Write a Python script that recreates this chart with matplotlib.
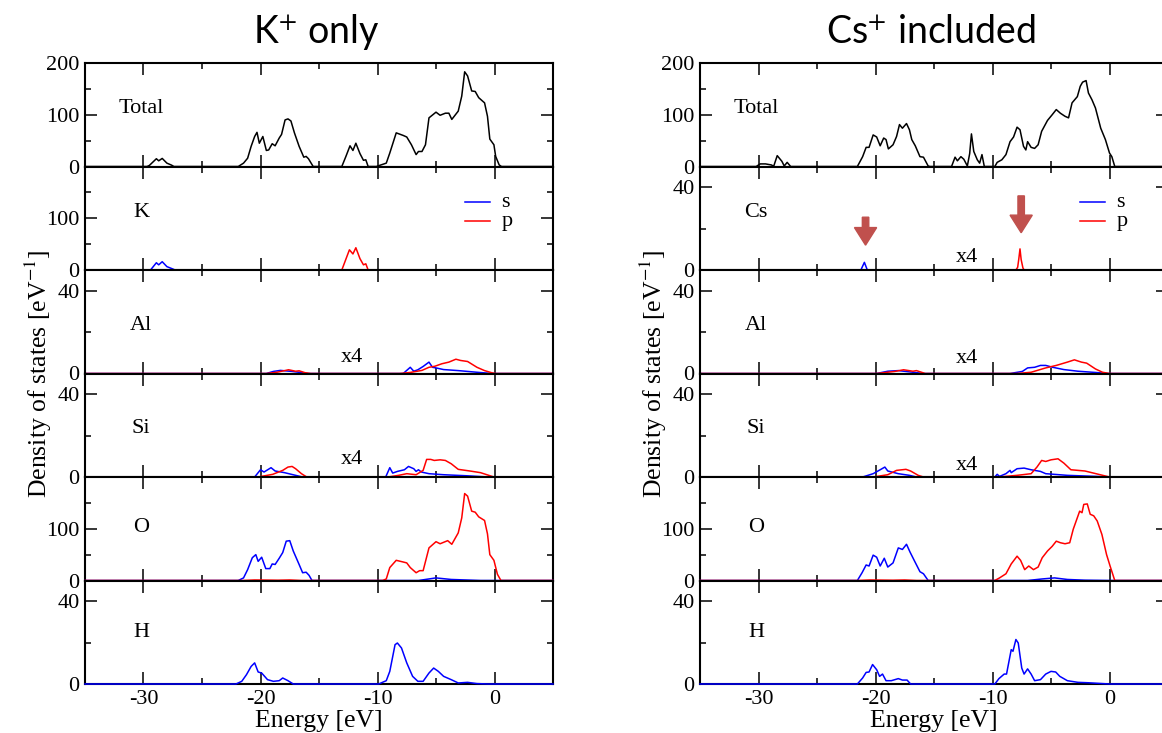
import matplotlib.pyplot as plt
from matplotlib.patches import FancyArrow
from matplotlib.ticker import MultipleLocator
import numpy as np

plt.rcParams['font.family'] = ['Liberation Serif', 'DejaVu Serif']
plt.rcParams['mathtext.fontset'] = 'stix'
plt.rcParams['axes.unicode_minus'] = False

# ---- curves, (energy [eV], DOS [1/eV]) ----
# K+ only
k_total = [(-35, 0), (-29.7, 0), (-29.5, 2), (-28.9, 15), (-28.7, 11), (-28.4, 15.6), (-28.0, 6.5),
           (-27.6, 2.6), (-27.4, 0), (-21.9, 0), (-21.45, 6.5), (-21.1, 16), (-20.8, 39), (-20.5, 58),
           (-20.3, 66), (-20.1, 45), (-19.8, 58), (-19.5, 31), (-19.3, 32), (-19.0, 44), (-18.75, 40),
           (-18.4, 55), (-18.2, 62), (-17.9, 90), (-17.65, 92), (-17.4, 88), (-17.1, 65), (-16.7, 39),
           (-16.3, 18), (-16.1, 19.5), (-15.9, 15), (-15.5, 0), (-13.05, 0), (-12.7, 19.5), (-12.35, 40),
           (-12.1, 31), (-11.85, 45), (-11.5, 25), (-11.2, 12), (-11.0, 13), (-10.8, 0), (-10.1, 0),
           (-9.25, 6.5), (-8.95, 26), (-8.4, 65), (-7.8, 60), (-7.5, 57), (-7.1, 42), (-6.7, 23),
           (-6.5, 29), (-6.2, 29), (-5.9, 42), (-5.6, 94), (-5.0, 105), (-4.65, 99), (-4.2, 103),
           (-3.9, 103), (-3.65, 91), (-3.1, 107), (-2.8, 136), (-2.55, 183), (-2.3, 175), (-1.95, 146),
           (-1.65, 145), (-1.35, 133), (-0.85, 123), (-0.6, 97), (-0.4, 53), (-0.05, 42), (0.1, 19.5),
           (0.4, 3), (0.6, 0), (5, 0)]
k_s = [(-35, 0), (-29.4, 0), (-28.9, 14), (-28.7, 10), (-28.4, 16), (-28.0, 6.5), (-27.5, 2),
       (-27.3, 0), (5, 0)]
k_p = [(-35, 0), (-13.05, 0), (-12.4, 39), (-12.1, 31), (-11.85, 43), (-11.5, 22), (-11.2, 10),
       (-11.0, 12), (-10.8, 0), (5, 0)]
k_al_s = [(-35, 0), (-19.5, 0), (-18.9, 1), (-18.3, 1.5), (-17.3, 1), (-15.9, 0), (-7.8, 0), (-7.2, 3),
          (-6.9, 1.1), (-6.55, 1.8), (-6.1, 3.4), (-5.6, 5.5), (-5.3, 3), (-5.0, 2.7), (-4.35, 1.9),
          (-3.1, 1.4), (-1.5, 0.6), (-0.2, 0), (5, 0)]
k_al_p = [(-35, 0), (-19.5, 0), (-18.6, 0.6), (-17.6, 1.8), (-17.0, 1.1), (-16.7, 1.3), (-16.2, 0.4),
          (-15.7, 0), (-8.1, 0), (-7.2, 0.5), (-6.2, 1.5), (-5.6, 3), (-5.1, 3.5), (-4.5, 4.7),
          (-3.9, 5.5), (-3.3, 6.9), (-2.9, 6.3), (-2.3, 5.8), (-1.5, 3), (-0.85, 1.4), (-0.2, 0.3),
          (0.1, 0), (5, 0)]
k_si_s = [(-35, 0), (-20.5, 0), (-20.0, 3.5), (-19.7, 2.4), (-19.1, 4.5), (-18.75, 2.9), (-17.95, 2.1),
          (-17.0, 0.8), (-16.4, 0), (-9.3, 0), (-8.95, 4.5), (-8.7, 1.9), (-8.3, 2.7), (-7.7, 3.5),
          (-7.35, 5.1), (-6.9, 4), (-6.7, 2.7), (-6.5, 3.5), (-6.25, 2.4), (-5.6, 1.6), (-4.35, 1.1),
          (-2.4, 0.6), (-0.55, 0), (5, 0)]
k_si_p = [(-35, 0), (-20.2, 0), (-18.95, 1.3), (-18.1, 3.2), (-17.65, 4.8), (-17.3, 5.1), (-17.0, 4),
          (-16.5, 1.6), (-16.05, 0), (-9.1, 0), (-8.2, 0.8), (-7.5, 1.6), (-6.7, 1.1), (-6.1, 3.2),
          (-5.8, 8.5), (-5.45, 8.5), (-5.15, 8), (-4.65, 8.3), (-4.2, 8), (-3.7, 6.4), (-3.1, 3.7),
          (-2.1, 2.9), (-1.2, 2.1), (-0.05, 0), (5, 0)]
k_o_s = [(-35, 0), (-21.9, 0), (-21.45, 5), (-21.1, 21), (-20.7, 44), (-20.4, 50), (-20.2, 37),
         (-19.9, 45), (-19.55, 23), (-19.2, 23), (-19.0, 32), (-18.75, 31), (-18.4, 43), (-18.1, 54),
         (-17.8, 76), (-17.5, 77), (-17.2, 57), (-16.7, 31), (-16.4, 15), (-16.1, 16), (-15.85, 10),
         (-15.6, 0), (-6.5, 0), (-5.0, 5), (-3.7, 2), (-1.2, 0), (5, 0)]
k_o_p = [(-35, 0), (-21.5, 0), (-20.5, 1), (-18.5, 0.5), (-17.5, 1), (-16.5, 0), (-9.55, 0), (-9.25, 3),
         (-8.95, 25), (-8.4, 39), (-7.85, 36), (-7.5, 34), (-7.2, 25), (-6.7, 15), (-6.4, 19), (-6.1, 19),
         (-5.6, 63), (-5.0, 75), (-4.65, 71), (-4.0, 77), (-3.65, 70), (-3.1, 92), (-2.8, 121),
         (-2.55, 168), (-2.3, 163), (-1.95, 134), (-1.65, 132), (-1.35, 123), (-0.85, 116), (-0.6, 90),
         (-0.4, 50), (-0.05, 39), (0.25, 12), (0.55, 0), (5, 0)]
k_h_s = [(-35, 0), (-22.1, 0), (-21.6, 1.3), (-21.2, 4.5), (-20.8, 8.5), (-20.5, 10.2), (-20.2, 5.8),
         (-19.9, 5.3), (-19.4, 2.1), (-18.9, 1.3), (-18.4, 1.6), (-18.1, 2.9), (-17.65, 1.6), (-17.2, 0),
         (-9.9, 0), (-9.25, 1.6), (-8.95, 6.1), (-8.5, 19), (-8.3, 19.8), (-7.95, 17.4), (-7.5, 10.2),
         (-7.0, 3.7), (-6.55, 1.3), (-6.1, 1.3), (-5.6, 5.3), (-5.2, 7.7), (-4.8, 6.1), (-4.35, 3.7),
         (-3.7, 2.1), (-3.1, 0.5), (-2.3, 0.8), (-1.5, 0.2), (-0.55, 0), (5, 0)]

# Cs+ included
cs_total = [(-35, 0), (-30.2, 0), (-29.85, 5), (-29.4, 5), (-28.9, 3), (-28.7, 0.5), (-28.4, 21),
            (-28.0, 10), (-27.8, 1), (-27.55, 8), (-27.25, 0), (-21.55, 0), (-21.1, 19), (-20.8, 37),
            (-20.55, 37), (-20.2, 61), (-19.9, 57), (-19.6, 40), (-19.3, 55), (-19.1, 52), (-18.9, 34),
            (-18.5, 42), (-18.2, 58), (-17.95, 81), (-17.7, 74), (-17.35, 83), (-17.1, 71), (-16.9, 52),
            (-16.6, 40), (-16.2, 19), (-15.9, 18), (-15.5, 1), (-15.35, 0), (-13.5, 0), (-13.2, 18),
            (-13.0, 11), (-12.7, 19), (-12.45, 14), (-12.15, 1), (-11.95, 25), (-11.8, 63), (-11.6, 29),
            (-11.3, 13), (-11.1, 6.5), (-10.9, 23), (-10.7, 0), (-9.8, 0), (-9.6, 8), (-9.2, 13),
            (-8.85, 23), (-8.5, 48), (-8.2, 57), (-7.9, 76), (-7.65, 71), (-7.35, 39), (-7.15, 32),
            (-7.0, 48), (-6.7, 37), (-6.4, 35), (-6.1, 42), (-5.8, 68), (-5.3, 89), (-4.9, 100),
            (-4.55, 110), (-4.2, 103), (-3.8, 97), (-3.5, 94), (-3.2, 123), (-2.75, 135), (-2.5, 155),
            (-2.3, 163), (-2.0, 166), (-1.8, 142), (-1.5, 129), (-1.2, 113), (-0.75, 74), (-0.35, 52),
            (0.0, 26), (0.2, 19), (0.45, 0), (5, 0)]
cs_s = [(-35, 0), (-21.25, 0), (-20.95, 3.7), (-20.7, 0), (5, 0)]
cs_p = [(-35, 0), (-8.0, 0), (-7.85, 1.3), (-7.75, 5.4), (-7.65, 10.2), (-7.55, 5), (-7.4, 1),
        (-7.3, 0), (5, 0)]
cs_al_s = [(-35, 0), (-19.9, 0), (-18.95, 1.1), (-18.05, 1.4), (-16.8, 0.6), (-15.9, 0), (-8.5, 0),
           (-7.45, 1), (-7.0, 2.7), (-6.4, 3), (-5.9, 3.9), (-5.45, 3.9), (-4.85, 3), (-3.9, 1.9),
           (-2.7, 1.1), (-1.2, 0.5), (-0.1, 0), (5, 0)]
cs_al_p = [(-35, 0), (-19.9, 0), (-18.35, 1), (-17.6, 1.8), (-16.8, 1.1), (-16.5, 1.4), (-15.75, 0),
           (-7.9, 0), (-6.7, 0.6), (-5.45, 2.7), (-4.55, 3.9), (-3.6, 5.5), (-3.0, 6.6), (-2.4, 5.5),
           (-1.95, 5), (-1.2, 2.2), (-0.6, 0.6), (0.0, 0), (5, 0)]
cs_si_s = [(-35, 0), (-21.1, 0), (-20.2, 1.6), (-19.6, 3.5), (-19.2, 4.8), (-18.95, 2.9), (-18.05, 1.6),
           (-17.1, 0.8), (-16.5, 0), (-9.8, 0), (-9.6, 1.3), (-9.4, 0.3), (-8.85, 1.6), (-8.5, 3.2),
           (-8.4, 2.1), (-7.9, 4), (-7.3, 4.3), (-6.7, 3.5), (-5.9, 2.7), (-5.45, 1.6), (-3.6, 0.8),
           (-1.2, 0.3), (0.0, 0), (5, 0)]
cs_si_p = [(-35, 0), (-20.2, 0), (-18.95, 1.1), (-18.2, 3.2), (-17.4, 3.7), (-17.0, 2.9), (-16.35, 0.8),
           (-15.9, 0), (-9.45, 0), (-7.9, 0.8), (-6.7, 1.6), (-6.2, 4.8), (-5.8, 8), (-5.45, 7.5),
           (-5.0, 8.3), (-4.4, 8.8), (-3.9, 6.7), (-3.3, 3.5), (-2.1, 2.9), (0.0, 0), (5, 0)]
cs_o_s = [(-35, 0), (-21.55, 0), (-21.15, 15), (-20.8, 30), (-20.55, 28), (-20.2, 49), (-19.9, 45),
          (-19.6, 28), (-19.25, 43), (-18.95, 26), (-18.5, 34), (-18.05, 63), (-17.7, 60), (-17.35, 70),
          (-17.05, 55), (-16.65, 37), (-16.2, 17), (-15.9, 13), (-15.5, 0), (-7.0, 0), (-5.75, 3),
          (-4.7, 5), (-3.6, 2), (-2.1, 0.6), (0.0, 0), (5, 0)]
cs_o_p = [(-35, 0), (-21.5, 0), (-20.5, 1), (-18.5, 0.5), (-17.5, 1), (-16.5, 0), (-9.8, 0), (-9.4, 5),
          (-8.85, 13), (-8.4, 32), (-7.9, 47), (-7.6, 39), (-7.25, 21), (-6.9, 28), (-6.5, 21),
          (-6.1, 26), (-5.75, 44), (-5.3, 57), (-4.9, 66), (-4.55, 76), (-4.2, 73), (-3.8, 71),
          (-3.4, 73), (-3.1, 99), (-2.55, 134), (-2.35, 131), (-2.2, 147), (-1.9, 148), (-1.65, 128),
          (-1.35, 125), (-1.05, 115), (-0.65, 89), (-0.25, 50), (0.05, 28), (0.45, 0), (5, 0)]
cs_h_s = [(-35, 0), (-21.55, 0), (-21.1, 2.9), (-20.8, 5.6), (-20.55, 5.8), (-20.25, 9.4), (-19.9, 6.9),
          (-19.65, 3.7), (-19.4, 4.8), (-19.1, 1.6), (-18.65, 1.6), (-18.05, 2.6), (-17.7, 1.9),
          (-17.3, 1.9), (-17.0, 0), (-9.8, 0), (-9.45, 2.6), (-9.0, 4.8), (-8.8, 4.8), (-8.4, 16.6),
          (-8.25, 15.8), (-8.0, 21.5), (-7.8, 19.8), (-7.5, 7.7), (-7.3, 4.8), (-7.0, 7.3), (-6.7, 4.8),
          (-6.4, 1.6), (-5.9, 2.1), (-5.45, 4.8), (-5.0, 6.1), (-4.6, 5.8), (-4.25, 3.7), (-3.6, 1.6),
          (-2.7, 0.8), (-1.8, 0.6), (-0.6, 0.2), (0.0, 0), (5, 0)]

# Cs arrows: energy, shaft top, tip
arrow_e = [-20.85, -7.55]
arrow_top = [25.5, 35.8]
arrow_tip = [12.0, 18.0]

S, P = '#0000ff', '#ff0000'
left_panels = [('Total', [(k_total, 'black')], 200),
               ('K', [(k_s, S), (k_p, P)], 200),
               ('Al', [(k_al_s, S), (k_al_p, P)], 50),
               ('Si', [(k_si_s, S), (k_si_p, P)], 50),
               ('O', [(k_o_s, S), (k_o_p, P)], 200),
               ('H', [(k_h_s, S)], 50)]
right_panels = [('Total', [(cs_total, 'black')], 200),
                ('Cs', [(cs_s, S), (cs_p, P)], 50),
                ('Al', [(cs_al_s, S), (cs_al_p, P)], 50),
                ('Si', [(cs_si_s, S), (cs_si_p, P)], 50),
                ('O', [(cs_o_s, S), (cs_o_p, P)], 200),
                ('H', [(cs_h_s, S)], 50)]

name_y = [0.56, 0.56, 0.46, 0.47, 0.51, 0.50]
left_x4 = {2: 0.155, 3: 0.17}
right_x4 = {1: 0.125, 2: 0.145, 3: 0.115}

W, H = 1162, 733
TOP, PH, AW = 63, 103.5, 468
fig = plt.figure(figsize=(W / 100, H / 100), dpi=100)


def draw_column(x0, panels, x4, title):
    axes = []
    for i, (name, curves, ymax) in enumerate(panels):
        top = TOP + i * PH
        ax = fig.add_axes([x0 / W, 1 - (top + PH) / H, AW / W, PH / H])
        for data, color in curves:
            e, v = np.array(data, dtype=float).T
            ax.plot(e, v, color=color, lw=1.1, zorder=3, clip_on=False)
        ax.set_xlim(-35, 5)
        ax.set_ylim(0, ymax)
        ax.xaxis.set_major_locator(MultipleLocator(10))
        ax.xaxis.set_minor_locator(MultipleLocator(5))
        if ymax == 200:
            ax.set_yticks([0, 100, 200])
            ax.set_yticklabels(['0', '100', '200' if i == 0 else ''])
            ax.set_yticks([50, 150], minor=True)
        else:
            ax.set_yticks([0, 40])
            ax.set_yticklabels(['0', '40'])
            ax.set_yticks([20], minor=True)
        ax.tick_params(which='both', direction='in', top=True, right=True, width=1.1,
                       labelsize=16, pad=4)
        ax.tick_params(which='major', length=8.5)
        ax.tick_params(which='minor', length=4.3)
        if i < len(panels) - 1:
            ax.tick_params(labelbottom=False)
        for sp in ax.spines.values():
            sp.set_linewidth(1.5)
        ax.text(0.12, name_y[i], name, transform=ax.transAxes, ha='center', va='center',
                fontsize=16)
        if i in x4:
            ax.text(0.57, x4[i], 'x4', transform=ax.transAxes, ha='center', va='center',
                    fontsize=16)
        if i == 1:
            ax.plot([0.813, 0.865], [0.657, 0.657], color=S, lw=1.1, transform=ax.transAxes)
            ax.plot([0.813, 0.865], [0.473, 0.473], color=P, lw=1.1, transform=ax.transAxes)
            ax.text(0.89, 0.657, 's', transform=ax.transAxes, ha='left', va='center', fontsize=16)
            ax.text(0.89, 0.473, 'p', transform=ax.transAxes, ha='left', va='center', fontsize=16)
        axes.append(ax)

    axes[-1].set_xlabel('Energy [eV]', fontsize=18.5, labelpad=1)
    fig.text((x0 - 47) / W, 1 - (TOP + 3 * PH) / H, 'Density of states [eV$^{-1}$]',
             rotation=90, ha='center', va='center', fontsize=18.5)
    fig.text((x0 + AW / 2 - 3) / W, 1 - 43 / H, title, ha='center', va='baseline',
             fontsize=27, family=['Lato', 'DejaVu Sans'])
    return axes


draw_column(85, left_panels, left_x4, 'K$^{+}$ only')
right_axes = draw_column(700, right_panels, right_x4, 'Cs$^{+}$ included')

cs_ax = right_axes[1]
for e, y0, y1 in zip(arrow_e, arrow_top, arrow_tip):
    cs_ax.add_patch(FancyArrow(e, y0, 0, y1 - y0, width=0.55, head_width=1.9,
                               head_length=8.5, length_includes_head=True,
                               color='#c0504d', zorder=4))

fig.savefig('out.png', dpi=100)
